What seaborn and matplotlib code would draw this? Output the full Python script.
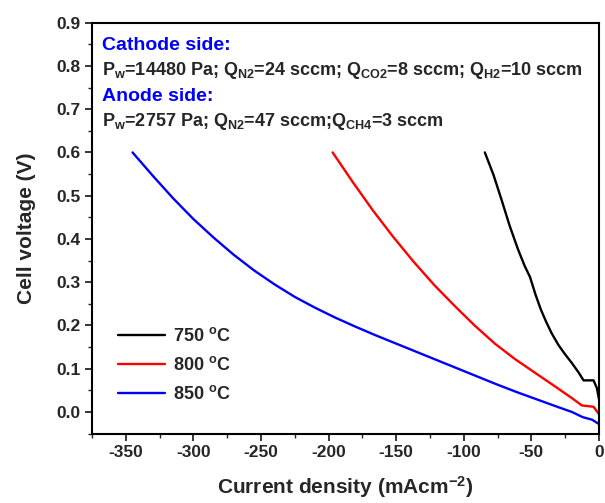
import pandas as pd
import seaborn as sns
import matplotlib.pyplot as plt
from matplotlib.ticker import MultipleLocator

x_750 = [-84.4, -78, -72, -66, -60, -55, -51, -47, -43, -39, -35, -30, -25, -20, -15, -11.4,
         -4, -1.5, 0]
v_750 = [0.600, 0.548, 0.490, 0.430, 0.377, 0.338, 0.312, 0.272, 0.237, 0.208, 0.182, 0.155,
         0.133, 0.113, 0.091, 0.073, 0.073, 0.055, 0.030]

x_800 = [-197, -182, -167, -152, -137, -122, -107, -92, -77, -62, -47, -32, -20, -12.6, -4, 0]
v_800 = [0.600, 0.531, 0.465, 0.404, 0.347, 0.294, 0.246, 0.200, 0.158, 0.122, 0.090, 0.058,
         0.032, 0.015, 0.012, -0.005]

x_850 = [-345, -330, -315, -300, -285, -270, -255, -240, -225, -210, -195, -180, -165, -150,
         -135, -120, -105, -90, -75, -60, -45, -30, -20, -12, -5, 0]
v_850 = [0.600, 0.546, 0.494, 0.446, 0.403, 0.363, 0.327, 0.295, 0.266, 0.241, 0.218, 0.197,
         0.177, 0.158, 0.139, 0.120, 0.101, 0.082, 0.063, 0.045, 0.028, 0.011, 0.000, -0.012,
         -0.018, -0.028]

labels = ['750 $^{o}$C', '800 $^{o}$C', '850 $^{o}$C']
colors = ['black', 'red', 'blue']

df = pd.concat([
    pd.DataFrame({'j': x_750, 'V': v_750, 'T': labels[0]}),
    pd.DataFrame({'j': x_800, 'V': v_800, 'T': labels[1]}),
    pd.DataFrame({'j': x_850, 'V': v_850, 'T': labels[2]}),
])

sns.set_style('ticks')
plt.rcParams['font.family'] = ['Liberation Sans', 'DejaVu Sans']
plt.rcParams['font.weight'] = 'bold'
plt.rcParams['axes.labelweight'] = 'bold'
plt.rcParams['axes.unicode_minus'] = False
plt.rcParams['mathtext.fontset'] = 'custom'
plt.rcParams['mathtext.rm'] = 'Liberation Sans:bold'
plt.rcParams['mathtext.bf'] = 'Liberation Sans:bold'
plt.rcParams['mathtext.it'] = 'Liberation Sans:bold'
plt.rcParams['mathtext.default'] = 'bf'

fig, ax = plt.subplots(figsize=(6.05, 5.03), dpi=100)
sns.lineplot(data=df, x='j', y='V', hue='T', palette=colors, sort=False,
             estimator=None, linewidth=1.7, ax=ax)

ax.set_xlim(-375, 0)
ax.set_ylim(-0.05, 0.9)
ax.xaxis.set_major_locator(MultipleLocator(50))
ax.xaxis.set_minor_locator(MultipleLocator(25))
ax.yaxis.set_major_locator(MultipleLocator(0.1))
ax.yaxis.set_minor_locator(MultipleLocator(0.05))
ax.yaxis.set_major_formatter(plt.FormatStrFormatter('%.1f'))
ax.tick_params(which='major', length=5, width=1.3, labelsize=12.5)
ax.tick_params(which='minor', length=3, width=1.0)
for s in ax.spines.values():
    s.set_linewidth(1.5)
    s.set_color('black')

ax.set_xlabel('Current density (mAcm$^{-2}$)', fontsize=15, labelpad=10)
ax.set_ylabel('Cell voltage (V)', fontsize=15, labelpad=14)

ax.text(0.02, 0.965, 'Cathode side:', transform=ax.transAxes, color='blue',
        fontsize=14, fontweight='bold', va='top')
ax.text(0.02, 0.91, 'P$_w$=14480 Pa; Q$_{N2}$=24 sccm; Q$_{CO2}$=8 sccm; Q$_{H2}$=10 sccm',
        transform=ax.transAxes, fontsize=13, fontweight='bold', va='top')
ax.text(0.02, 0.84, 'Anode side:', transform=ax.transAxes, color='blue',
        fontsize=14, fontweight='bold', va='top')
ax.text(0.02, 0.785, 'P$_w$=2757 Pa; Q$_{N2}$=47 sccm;Q$_{CH4}$=3 sccm',
        transform=ax.transAxes, fontsize=13, fontweight='bold', va='top')

leg = ax.legend(loc='lower left', bbox_to_anchor=(0.02, 0.035), frameon=False,
                fontsize=13, handlelength=2.6, handletextpad=0.4, labelspacing=0.6)

plt.subplots_adjust(left=0.152, right=0.99, top=0.955, bottom=0.138)
plt.savefig('out.png', dpi=100)
